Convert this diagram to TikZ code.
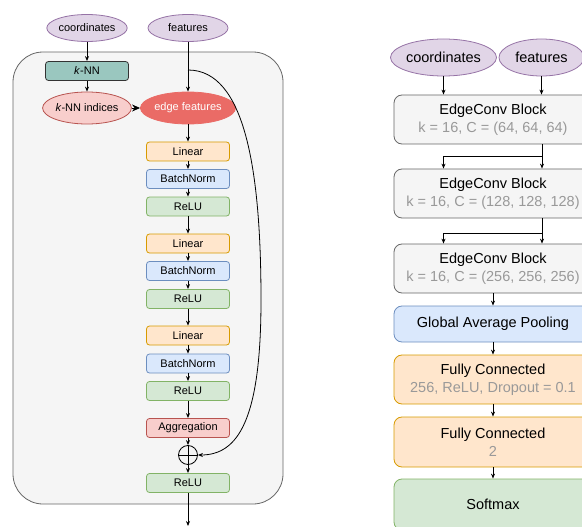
\documentclass[tikz,border=0pt]{standalone}
\usepackage{fontspec}
\setmainfont{Liberation Sans}
\usepackage{tikz}
\usetikzlibrary{arrows.meta, positioning, calc, shapes.geometric}
\usepackage{xcolor}
\definecolor{purpfill}{HTML}{E1D5E7}
\definecolor{purpline}{HTML}{9673A6}
\definecolor{orfill}{HTML}{FFE6CC}
\definecolor{orline}{HTML}{D79B00}
\definecolor{blfill}{HTML}{DAE8FC}
\definecolor{blline}{HTML}{6C8EBF}
\definecolor{grfill}{HTML}{D5E8D4}
\definecolor{grline}{HTML}{82B366}
\definecolor{rdfill}{HTML}{F8CECC}
\definecolor{rdline}{HTML}{B85450}
\definecolor{rdstrong}{HTML}{EA6B66}
\definecolor{tealfill}{HTML}{9AC7BF}
\definecolor{bgfill}{HTML}{F5F5F5}
\definecolor{bgline}{HTML}{666666}
\definecolor{subgray}{HTML}{999999}

\begin{document}
\begin{tikzpicture}[x=1pt, y=-1pt, line width=0.8pt,
  >={Stealth[length=5pt,width=4pt]},
  small/.style={font=\fontsize{11}{13}\selectfont},
  big/.style={font=\fontsize{14.5}{18}\selectfont, align=center},
  ell/.style={ellipse, draw=purpline, fill=purpfill, inner sep=0pt, minimum width=80pt, minimum height=27pt, small},
  lay/.style={rectangle, rounded corners=3pt, inner sep=0pt, minimum width=83pt, minimum height=19pt, small},
  blk/.style={rectangle, rounded corners=8pt, inner sep=0pt, minimum width=198pt, big},
  linear/.style={lay, draw=orline, fill=orfill},
  bnorm/.style={lay, draw=blline, fill=blfill},
  relu/.style={lay, draw=grline, fill=grfill}]
  \clip (0,0) rectangle (582,527);

  \draw[draw=bgline, fill=bgfill, rounded corners=30pt] (13,52) rectangle (283,504);

  \node[ell] (coord) at (87,28) {coordinates};
  \node[ell] (feat) at (188,28) {features};
  \node[lay, draw=black!80, fill=tealfill] (knn) at (87,71) {\textit{k}-NN};
  \node[ell, draw=rdline, fill=rdfill, minimum height=32pt] (knnidx) at (87,108) {\textit{k}-NN indices};
  \node[ell, draw=rdstrong, fill=rdstrong, text=white, minimum height=32pt] (edgef) at (188,108) {edge features};
  \node[linear] (lin1) at (188,151.5) {Linear};
  \node[bnorm] (bn1) at (188,179) {BatchNorm};
  \node[relu] (re1) at (188,206.5) {ReLU};
  \node[linear] (lin2) at (188,243.5) {Linear};
  \node[bnorm] (bn2) at (188,271) {BatchNorm};
  \node[relu] (re2) at (188,299) {ReLU};
  \node[linear] (lin3) at (188,335.5) {Linear};
  \node[bnorm] (bn3) at (188,363.5) {BatchNorm};
  \node[relu] (re3) at (188,391) {ReLU};
  \node[lay, draw=rdline, fill=rdfill] (agg) at (188,428) {Aggregation};
  \node[circle, draw, minimum size=19pt, inner sep=0pt] (plus) at (188,455) {};
  \draw (plus.north) -- (plus.south) (plus.west) -- (plus.east);
  \node[relu] (re4) at (188,483) {ReLU};
  \coordinate (split) at (188,70);
  \coordinate (out) at (188,526);

  \draw[->] (coord) -- (knn);
  \draw[->] (knn) -- (knnidx);
  \draw[->] (feat) -- (edgef);
  \draw[-{Stealth[length=8pt,width=7pt]}] (knnidx) -- (edgef);
  \foreach \a/\b in {edgef/lin1, lin1/bn1, bn1/re1, re1/lin2, lin2/bn2, bn2/re2, re2/lin3, lin3/bn3, bn3/re3, re3/agg, agg/plus, plus/re4}
    \draw[->] (\a) -- (\b);
  \draw[->] (re4) -- (out);
  \draw[->] (split) .. controls (245,70) and (261,170) .. (261,300)
    .. controls (261,420) and (238,455) .. (plus.east);

  \node[ell, big, minimum width=87pt, minimum height=37pt] (coordR) at (443.5,57.5) {coordinates};
  \node[ell, big, minimum width=85pt, minimum height=37pt] (featR) at (541.5,57.5) {features};
  \node[blk, draw=bgline, fill=bgfill, minimum height=49pt] (b1) at (493,119.5) {EdgeConv Block\\{\color{subgray}k = 16, C = (64, 64, 64)}};
  \node[blk, draw=bgline, fill=bgfill, minimum height=49pt] (b2) at (493,193.5) {EdgeConv Block\\{\color{subgray}k = 16, C = (128, 128, 128)}};
  \node[blk, draw=bgline, fill=bgfill, minimum height=49pt] (b3) at (493,268.5) {EdgeConv Block\\{\color{subgray}k = 16, C = (256, 256, 256)}};
  \node[blk, draw=blline, fill=blfill, minimum height=36pt] (gap) at (493,324) {Global Average Pooling};
  \node[blk, draw=orline, fill=orfill, minimum height=49pt] (fc1) at (493,379.5) {Fully Connected\\{\color{subgray}256, ReLU, Dropout = 0.1}};
  \node[blk, draw=orline, fill=orfill, minimum height=50pt] (fc2) at (493,442) {Fully Connected\\{\color{subgray}2}};
  \node[blk, draw=grline, fill=grfill, minimum height=51pt] (soft) at (493,504.5) {Softmax};
  \coordinate (s1) at (542,156);
  \coordinate (s2) at (542,233);

  \draw[->] (coordR) -- (coordR |- b1.north);
  \draw[->] (featR) -- (featR |- b1.north);
  \draw (b1.south -| s1) -- (s1);
  \draw[->] (s1) -- (s1 |- b2.north);
  \draw[->] (s1) -| (coordR |- b2.north);
  \draw (b2.south -| s2) -- (s2);
  \draw[->] (s2) -- (s2 |- b3.north);
  \draw[->] (s2) -| (coordR |- b3.north);
  \foreach \a/\b in {b3/gap, gap/fc1, fc1/fc2, fc2/soft}
    \draw[->] (\a) -- (\b);
\end{tikzpicture}
\end{document}
